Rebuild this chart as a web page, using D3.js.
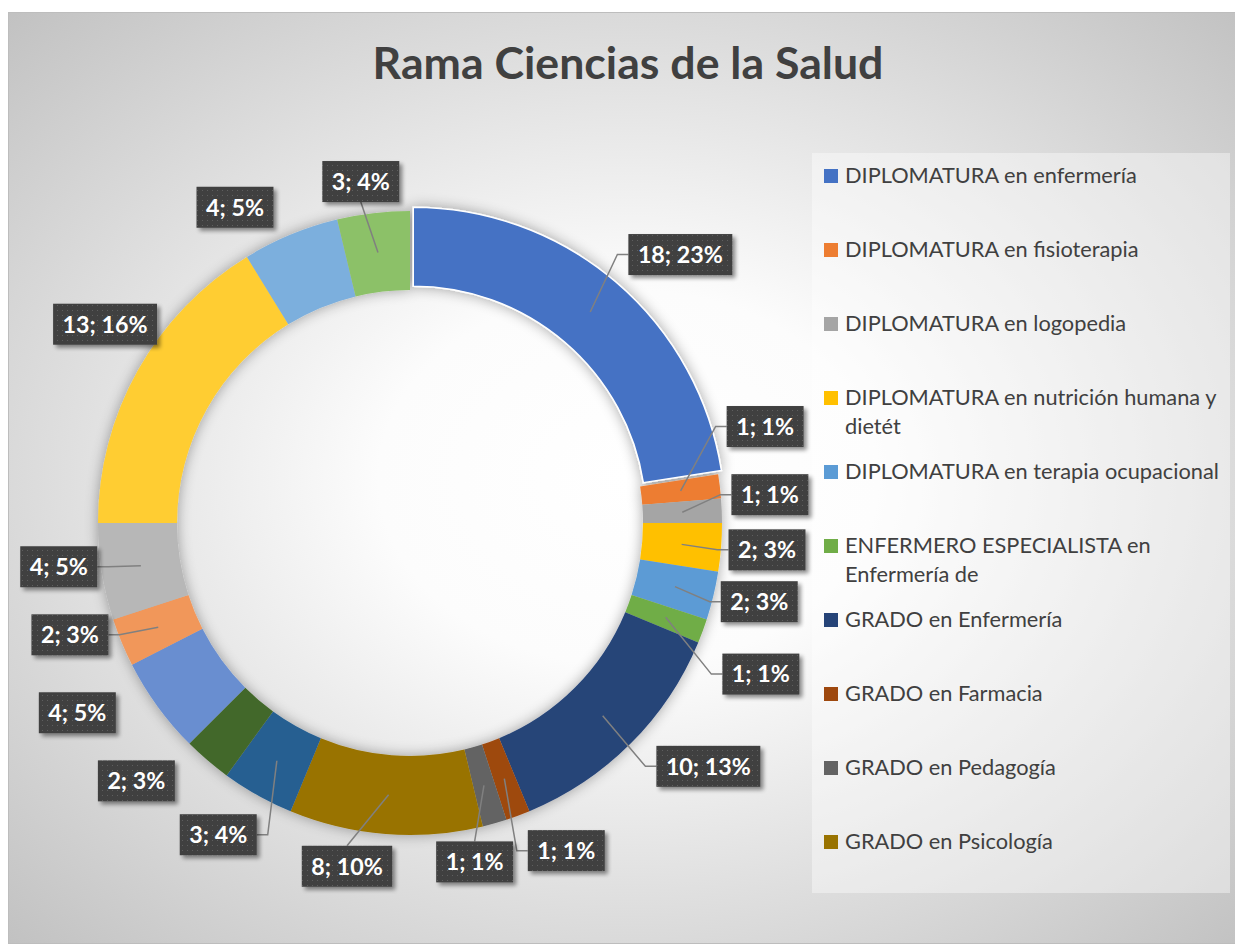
<!DOCTYPE html>
<html>
<head>
<meta charset="utf-8">
<script src="https://cdn.jsdelivr.net/npm/d3@7"></script>
<style>
  body { margin: 0; background: #fff; }
  svg { display: block; }
</style>
</head>
<body>
<svg id="chart" width="1235" height="945"></svg>
<script>
const title = 'Rama Ciencias de la Salud'

const categories = [
  'DIPLOMATURA en enfermería',
  'DIPLOMATURA en fisioterapia',
  'DIPLOMATURA en logopedia',
  'DIPLOMATURA en nutrición humana y dietét',
  'DIPLOMATURA en terapia ocupacional',
  'ENFERMERO ESPECIALISTA en Enfermería de',
  'GRADO en Enfermería',
  'GRADO en Farmacia',
  'GRADO en Pedagogía',
  'GRADO en Psicología',
  'GRADO en Terapia Ocupacional',
  'LICENCIATURA en Farmacia',
  'LICENCIATURA en Medicina',
  'LICENCIATURA en Odontología',
  'LICENCIATURA en Pedagogía',
  'LICENCIATURA en Psicología',
  'LICENCIATURA en Psicopedagogía',
  'MÁSTER en Ciencias de la Salud'
]

const counts = [18, 1, 1, 2, 2, 1, 10, 1, 1, 8, 3, 2, 4, 2, 4, 13, 4, 3]

const colors = ['#4472C4', '#ED7D31', '#A5A5A5', '#FFC000', '#5B9BD5', '#70AD47',
  '#264478', '#9E480E', '#636363', '#997300', '#255E91', '#43682B',
  '#698ED0', '#F1975A', '#B7B7B7', '#FFCD33', '#7CAFDD', '#8CC168']

// excel only had room for the first ten legend entries
const legendShown = 10

// where each data label sits: [angle in degrees clockwise from top, distance from centre]
const labelPolar = [[45.2, 381], [74.8, 368], [85.5, 361], [94.3, 358], [102.7, 358],
  [113.3, 382], [129.2, 385], [154.5, 363], [169.2, 345], [190.4, 349], [211.6, 366],
  [226.7, 376], [240.3, 383], [251.8, 358], [262.9, 354], [303.1, 364], [331, 361], [351.8, 345]]
const leader = [1, 1, 1, 1, 1, 1, 1, 1, 1, 1, 1, 0, 0, 1, 1, 0, 0, 1]

const svg = d3.select('#chart')
const cx = 410
const cy = 523
const rOuter = 312
const rInner = 233
const total = d3.sum(counts)

const defs = svg.append('defs')

const bg = defs.append('radialGradient').attr('id', 'bg')
  .attr('cx', '50%').attr('cy', '50%').attr('r', '72%')
bg.append('stop').attr('offset', '0%').attr('stop-color', '#ffffff')
bg.append('stop').attr('offset', '28%').attr('stop-color', '#fcfcfc')
bg.append('stop').attr('offset', '100%').attr('stop-color', '#c0c0c0')

const ringShadow = defs.append('filter').attr('id', 'ringShadow')
  .attr('x', '-20%').attr('y', '-20%').attr('width', '140%').attr('height', '140%')
ringShadow.append('feGaussianBlur').attr('in', 'SourceAlpha').attr('stdDeviation', 7)
ringShadow.append('feComponentTransfer').append('feFuncA').attr('type', 'linear').attr('slope', 0.35)
const rm = ringShadow.append('feMerge')
rm.append('feMergeNode')
rm.append('feMergeNode').attr('in', 'SourceGraphic')

const boxShadow = defs.append('filter').attr('id', 'boxShadow')
  .attr('x', '-20%').attr('y', '-20%').attr('width', '150%').attr('height', '160%')
boxShadow.append('feGaussianBlur').attr('in', 'SourceAlpha').attr('stdDeviation', 2)
boxShadow.append('feOffset').attr('dx', 3).attr('dy', 3)
boxShadow.append('feComponentTransfer').append('feFuncA').attr('type', 'linear').attr('slope', 0.45)
const bm = boxShadow.append('feMerge')
bm.append('feMergeNode')
bm.append('feMergeNode').attr('in', 'SourceGraphic')

const dots = defs.append('pattern').attr('id', 'dots')
  .attr('width', 5).attr('height', 5).attr('patternUnits', 'userSpaceOnUse')
dots.append('rect').attr('width', 5).attr('height', 5).attr('fill', '#404040')
dots.append('rect').attr('x', 2).attr('y', 2).attr('width', 1).attr('height', 1).attr('fill', '#5e5e5e')

// chart area
svg.append('rect')
  .attr('x', 8.5).attr('y', 12.5)
  .attr('width', 1240).attr('height', 931)
  .attr('fill', 'url(#bg)')
  .attr('stroke', '#bdbdbd')

function fitSize (text, family, weight, target) {
  const t = svg.append('text')
    .attr('font-family', family).attr('font-weight', weight)
    .attr('font-size', 20).text(text)
  const w = t.node().getComputedTextLength()
  t.remove()
  return 20 * target / w
}

const font = 'Lato, "Open Sans", sans-serif'

// title
svg.append('text')
  .attr('x', 628).attr('y', 79)
  .attr('text-anchor', 'middle')
  .attr('font-family', font).attr('font-weight', 700)
  .attr('font-size', fitSize(title, font, 700, 511))
  .attr('fill', '#404040')
  .text(title)

// legend
const legend = svg.append('g')
legend.append('rect')
  .attr('x', 812).attr('y', 153)
  .attr('width', 418).attr('height', 740)
  .attr('fill', '#ffffff').attr('fill-opacity', 0.4)

const legendSize = fitSize('DIPLOMATURA en terapia ocupacional', font, 400, 374)
const measure = svg.append('text').attr('font-family', font).attr('font-size', legendSize)
function wrap (str, maxW) {
  const words = str.split(' ')
  const lines = []
  let line = ''
  words.forEach(w => {
    const test = line ? line + ' ' + w : w
    measure.text(test)
    if (line && measure.node().getComputedTextLength() > maxW) {
      lines.push(line)
      line = w
    } else {
      line = test
    }
  })
  lines.push(line)
  return lines
}

const legendY = d3.scalePoint()
  .domain(categories.slice(0, legendShown))
  .range([176, 842])

categories.slice(0, legendShown).forEach((name, i) => {
  const y = legendY(name)
  legend.append('rect')
    .attr('x', 824).attr('y', y - 7)
    .attr('width', 14).attr('height', 14)
    .attr('fill', colors[i])
  const t = legend.append('text')
    .attr('x', 845).attr('y', y + 7)
    .attr('font-family', font).attr('font-size', legendSize)
    .attr('fill', '#404040')
  wrap(name, 382).forEach((ln, j) => {
    t.append('tspan').attr('x', 845).attr('dy', j === 0 ? 0 : 29).text(ln)
  })
})
measure.remove()

// donut
const pie = d3.pie().sort(null).value(d => d)
const arcs = pie(counts)
const arc = d3.arc().innerRadius(rInner).outerRadius(rOuter)
const explode = [5, 0, 0, 0, 0, 0, 0, 0, 0, 0, 0, 0, 0, 0, 0, 0, 0, 0]

function shift (d, i) {
  const a = (d.startAngle + d.endAngle) / 2
  return [explode[i] * Math.sin(a), -explode[i] * Math.cos(a)]
}

const ring = svg.append('g')
  .attr('transform', 'translate(' + cx + ',' + cy + ')')
  .attr('filter', 'url(#ringShadow)')

ring.selectAll('path')
  .data(arcs)
  .enter()
  .append('path')
  .attr('d', arc)
  .attr('transform', (d, i) => 'translate(' + shift(d, i) + ')')
  .attr('fill', (d, i) => colors[i])
  .attr('stroke', (d, i) => explode[i] ? '#ffffff' : 'none')
  .attr('stroke-width', 1.5)

// data labels
const labelSize = fitSize('18; 23%', font, 700, 85)
const labels = svg.append('g')
  .attr('transform', 'translate(' + cx + ',' + cy + ')')

arcs.forEach((d, i) => {
  const txt = counts[i] + '; ' + Math.round(counts[i] / total * 100) + '%'
  const a = labelPolar[i][0] * Math.PI / 180
  const bx = labelPolar[i][1] * Math.sin(a)
  const by = -labelPolar[i][1] * Math.cos(a)

  const g = labels.append('g')
  const t = g.append('text')
    .attr('x', bx).attr('y', by + labelSize * 0.36)
    .attr('text-anchor', 'middle')
    .attr('font-family', font).attr('font-weight', 700)
    .attr('font-size', labelSize)
    .attr('fill', '#ffffff')
    .text(txt)
  const w = t.node().getComputedTextLength() + 19
  const h = 41

  if (leader[i]) {
    const c = arc.centroid(d)
    const s = shift(d, i)
    const px = c[0] + s[0]
    const py = c[1] + s[1]
    let path
    if (px >= bx - w / 2 && px <= bx + w / 2) {
      const ey = py < by ? by - h / 2 : by + h / 2
      path = d3.line()([[px, py], [bx, ey]])
    } else {
      const side = px < bx ? bx - w / 2 : bx + w / 2
      const elbow = px < bx ? side - 11 : side + 11
      path = d3.line()([[px, py], [elbow, by], [side, by]])
    }
    labels.insert('path', ':first-child')
      .attr('d', path)
      .attr('fill', 'none')
      .attr('stroke', '#808080')
      .attr('stroke-width', 1.5)
  }

  g.insert('rect', 'text')
    .attr('x', bx - w / 2).attr('y', by - h / 2)
    .attr('width', w).attr('height', h)
    .attr('fill', 'url(#dots)')
    .attr('filter', 'url(#boxShadow)')
})
</script>
</body>
</html>
